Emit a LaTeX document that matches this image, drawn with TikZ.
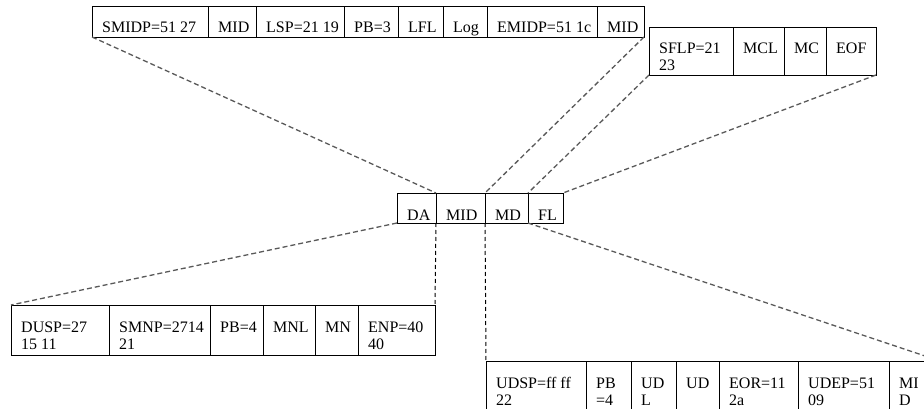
\documentclass[tikz,border=0pt]{standalone}
\usepackage{fontspec}
\setmainfont{Liberation Serif}
\newcommand\mycell[7]{%
  \node[cellbox, anchor=north west, minimum width={(#3-#2)*1pt}, minimum height={(#5-#4)*1pt}] (#1) at (#2,#4) {};
  \node[celltext] (#1-t) at ([xshift=10pt,yshift=-27pt]#1.north west) {#6};
  \node[celltext] (#1-u) at ([xshift=10pt,yshift=-44pt]#1.north west) {#7};
}
\begin{document}
\begin{tikzpicture}[x=1pt,y=-1pt,
  cellbox/.style={draw=black, line width=0.9pt, inner sep=0pt, outer sep=0pt},
  celltext/.style={anchor=base west, inner sep=0pt, font=\fontsize{16}{18}\selectfont},
  slantdash/.style={draw=black!65, line width=1.3pt, dash pattern=on 5pt off 3pt},
  vertdash/.style={draw=black, line width=1pt, dash pattern=on 4pt off 3pt}]
\useasboundingbox (0,0) rectangle (924,409);
% top table
\mycell{t1}{92}{208}{6}{37}{SMIDP=51 27}{}
\mycell{t2}{208}{256}{6}{37}{MID}{}
\mycell{t3}{256}{344}{6}{37}{LSP=21 19}{}
\mycell{t4}{344}{398}{6}{37}{PB=3}{}
\mycell{t5}{398}{443}{6}{37}{LFL}{}
\mycell{t6}{443}{487}{6}{37}{Log}{}
\mycell{t7}{487}{597}{6}{37}{EMIDP=51 1c}{}
\mycell{t8}{597}{644}{6}{37}{MID}{}
% right top table
\mycell{r1}{649}{733}{27}{75}{SFLP=21}{23}
\mycell{r2}{733}{784}{27}{75}{MCL}{}
\mycell{r3}{784}{826}{27}{75}{MC}{}
\mycell{r4}{826}{876}{27}{75}{EOF}{}
% center table
\mycell{c1}{397}{436}{193}{223}{DA}{}
\mycell{c2}{436}{485}{193}{223}{MID}{}
\mycell{c3}{485}{528}{193}{223}{MD}{}
\mycell{c4}{528}{563}{193}{223}{FL}{}
% bottom left table
\mycell{l1}{11}{109}{305}{355}{DUSP=27}{15 11}
\mycell{l2}{109}{210}{305}{355}{SMNP=2714}{21}
\mycell{l3}{210}{263}{305}{355}{PB=4}{}
\mycell{l4}{263}{315}{305}{355}{MNL}{}
\mycell{l5}{315}{358}{305}{355}{MN}{}
\mycell{l6}{358}{435}{305}{355}{ENP=40}{40}
% bottom right table
\mycell{b1}{486}{586}{361}{416}{UDSP=ff ff}{22}
\mycell{b2}{586}{631}{361}{416}{PB}{=4}
\mycell{b3}{631}{676}{361}{416}{UD}{L}
\mycell{b4}{676}{719}{361}{416}{UD}{}
\mycell{b5}{719}{798}{361}{416}{EOR=11}{2a}
\mycell{b6}{798}{889}{361}{416}{UDEP=51}{09}
\mycell{b7}{889}{940}{361}{416}{MI}{D}
% connectors
\draw[slantdash] (t1.south west) -- (c2.north west);
\draw[slantdash] (t8.south east) -- (c3.north west);
\draw[slantdash] (r1.south west) -- (c4.north west);
\draw[slantdash] (r4.south east) -- (c4.north east);
\draw[slantdash] (c1.south west) -- (l1.north west);
\draw[vertdash] (c2.south west) -- (l6.north east);
\draw[vertdash] (c3.south west) -- (b1.north west);
\draw[slantdash] (c4.south west) -- (b7.north east);
\end{tikzpicture}
\end{document}
